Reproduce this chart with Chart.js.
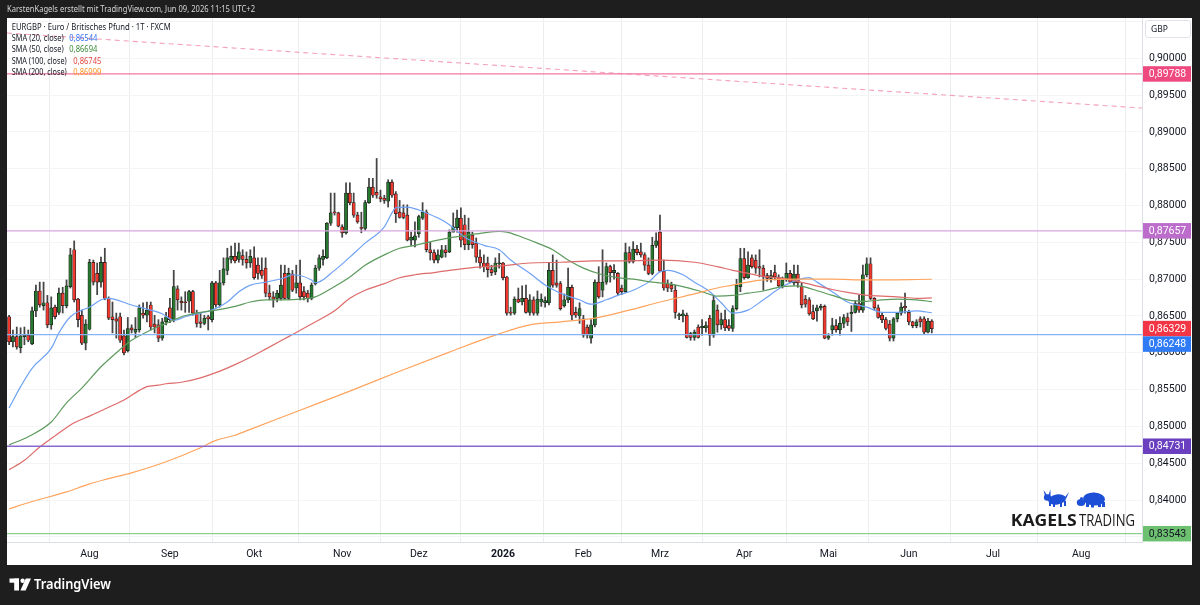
<!DOCTYPE html>
<html><head><meta charset="utf-8">
<script src="https://cdn.jsdelivr.net/npm/chart.js@4.4.1/dist/chart.umd.min.js"></script>
<style>html,body{margin:0;padding:0;background:#1e1e1e;overflow:hidden}canvas{display:block}</style>
</head><body><canvas id="c" width="1200" height="605"></canvas>
<script>
// ---------- categories (trading days) ----------
const firstBar = -21;                 // bar index of first candle (Aug 1 2025 = 0)
const startDate = '2025-07-03';
const endDate = '2026-08-31';
const holidays = ['2025-12-25', '2026-01-01'];
const monthKeys = ['2025-08','2025-09','2025-10','2025-11','2025-12','2026-01','2026-02','2026-03','2026-04','2026-05','2026-06','2026-07','2026-08'];
const monthLabels = ['Aug','Sep','Okt','Nov','Dez','2026','Feb','Mrz','Apr','Mai','Jun','Jul','Aug'];

// ---------- EURGBP daily OHLC ----------
const opens = [
.8649,.8615,.8622,.8607,.8622,.8624,.8612,.8657,.8684,.8664,
.8668,.8638,.8662,.8655,.8681,.8664,.8690,.8740,.8673,.8651,
.8613,.8632,.8723,.8708,.8696,.8723,.8674,.8649,.8646,.8649,
.8623,.8603,.8634,.8628,.8631,.8654,.8651,.8665,.8639,.8638,
.8620,.8642,.8661,.8645,.8687,.8670,.8669,.8670,.8683,.8654,
.8642,.8640,.8649,.8645,.8695,.8665,.8695,.8712,.8727,.8731,
.8727,.8732,.8727,.8722,.8729,.8719,.8712,.8715,.8681,.8676,
.8674,.8674,.8708,.8674,.8707,.8688,.8695,.8683,.8681,.8674,
.8694,.8715,.8727,.8729,.8776,.8791,.8790,.8771,.8763,.8817,
.8804,.8787,.8770,.8769,.8804,.8825,.8818,.8812,.8810,.8806,
.8832,.8816,.8791,.8790,.8787,.8753,.8753,.8762,.8783,.8791,
.8740,.8736,.8726,.8730,.8740,.8737,.8764,.8770,.8783,.8774,
.8747,.8760,.8749,.8730,.8722,.8722,.8713,.8710,.8721,.8722,
.8703,.8655,.8654,.8673,.8669,.8674,.8655,.8672,.8654,.8669,
.8668,.8668,.8712,.8695,.8694,.8664,.8672,.8689,.8655,.8650,
.8646,.8635,.8620,.8638,.8696,.8685,.8696,.8717,.8709,.8708,
.8688,.8683,.8736,.8724,.8741,.8737,.8733,.8719,.8708,.8746,
.8764,.8711,.8694,.8692,.8685,.8650,.8650,.8651,.8626,.8621,
.8635,.8634,.8634,.8647,.8624,.8658,.8638,.8645,.8637,.8633,
.8660,.8690,.8728,.8702,.8729,.8726,.8717,.8715,.8705,.8701,
.8709,.8703,.8691,.8699,.8708,.8695,.8707,.8690,.8673,.8672,
.8656,.8657,.8661,.8663,.8620,.8631,.8637,.8631,.8640,.8648,
.8653,.8655,.8667,.8658,.8706,.8721,.8674,.8661,.8651,.8645,
.8639,.8620,.8646,.8654,.8663,.8655,.8642,.8637,.8646,.8646,
.8628,.8643];
const highs = [
.8651,.8631,.8635,.8634,.8635,.8631,.8662,.8692,.8696,.8696,
.8678,.8676,.8665,.8688,.8689,.8699,.8742,.8752,.8674,.8658,
.8645,.8727,.8726,.8722,.8730,.8742,.8676,.8669,.8654,.8654,
.8631,.8648,.8638,.8648,.8665,.8668,.8669,.8669,.8651,.8645,
.8647,.8655,.8674,.8712,.8691,.8676,.8683,.8685,.8685,.8658,
.8655,.8651,.8651,.8697,.8697,.8712,.8729,.8742,.8745,.8749,
.8749,.8740,.8737,.8740,.8744,.8729,.8729,.8729,.8692,.8683,
.8685,.8719,.8719,.8715,.8712,.8719,.8726,.8690,.8685,.8695,
.8719,.8733,.8740,.8777,.8817,.8817,.8791,.8774,.8831,.8831,
.8817,.8791,.8791,.8807,.8837,.8837,.8864,.8821,.8814,.8835,
.8835,.8819,.8807,.8801,.8801,.8764,.8778,.8787,.8804,.8794,
.8750,.8740,.8740,.8746,.8746,.8767,.8790,.8794,.8797,.8787,
.8783,.8764,.8756,.8740,.8733,.8730,.8719,.8729,.8735,.8723,
.8704,.8662,.8676,.8688,.8691,.8692,.8679,.8676,.8684,.8680,
.8676,.8723,.8733,.8726,.8697,.8680,.8715,.8692,.8662,.8668,
.8651,.8638,.8645,.8699,.8717,.8740,.8722,.8719,.8720,.8709,
.8692,.8749,.8744,.8751,.8746,.8749,.8736,.8729,.8757,.8763,
.8787,.8726,.8699,.8696,.8692,.8654,.8658,.8654,.8628,.8631,
.8638,.8645,.8642,.8651,.8678,.8665,.8654,.8658,.8645,.8664,
.8700,.8742,.8742,.8737,.8733,.8733,.8740,.8719,.8708,.8712,
.8719,.8706,.8703,.8722,.8712,.8719,.8719,.8695,.8678,.8675,
.8665,.8665,.8666,.8665,.8626,.8647,.8645,.8649,.8652,.8654,
.8664,.8671,.8678,.8719,.8729,.8729,.8675,.8665,.8654,.8648,
.8644,.8648,.8655,.8668,.8681,.8658,.8643,.8645,.8649,.8649,
.8647,.8645];
const lows = [
.8611,.8608,.8605,.8600,.8611,.8615,.8611,.8649,.8662,.8658,
.8634,.8632,.8646,.8652,.8654,.8661,.8688,.8669,.8635,.8611,
.8604,.8631,.8692,.8679,.8689,.8672,.8645,.8627,.8620,.8614,
.8597,.8601,.8627,.8621,.8628,.8647,.8642,.8631,.8627,.8615,
.8617,.8638,.8641,.8642,.8658,.8658,.8655,.8655,.8651,.8635,
.8634,.8638,.8631,.8642,.8662,.8662,.8692,.8706,.8722,.8722,
.8723,.8719,.8715,.8716,.8700,.8700,.8701,.8676,.8672,.8662,
.8669,.8672,.8673,.8672,.8683,.8681,.8672,.8672,.8669,.8672,
.8692,.8712,.8719,.8728,.8773,.8787,.8771,.8757,.8761,.8801,
.8784,.8776,.8763,.8766,.8803,.8811,.8810,.8805,.8803,.8798,
.8811,.8777,.8783,.8782,.8752,.8746,.8744,.8757,.8781,.8737,
.8726,.8722,.8722,.8729,.8730,.8736,.8764,.8764,.8744,.8740,
.8740,.8742,.8723,.8715,.8710,.8703,.8705,.8706,.8715,.8699,
.8651,.8651,.8652,.8668,.8665,.8654,.8651,.8651,.8651,.8663,
.8662,.8665,.8689,.8689,.8658,.8662,.8668,.8645,.8648,.8640,
.8621,.8620,.8613,.8635,.8674,.8676,.8693,.8696,.8700,.8678,
.8679,.8682,.8722,.8722,.8733,.8730,.8712,.8706,.8706,.8743,
.8710,.8685,.8683,.8683,.8647,.8645,.8642,.8620,.8617,.8617,
.8620,.8624,.8628,.8610,.8621,.8628,.8632,.8630,.8630,.8629,
.8658,.8683,.8700,.8701,.8715,.8708,.8703,.8685,.8697,.8696,
.8699,.8690,.8688,.8697,.8695,.8692,.8689,.8661,.8662,.8651,
.8645,.8643,.8658,.8619,.8618,.8624,.8628,.8624,.8634,.8637,
.8629,.8654,.8655,.8655,.8703,.8672,.8658,.8647,.8641,.8631,
.8616,.8616,.8642,.8651,.8654,.8638,.8634,.8634,.8635,.8625,
.8627,.8627];
const closes = [
.8615,.8622,.8608,.8623,.8624,.8617,.8657,.8684,.8665,.8668,
.8638,.8661,.8649,.8681,.8664,.8691,.8733,.8672,.8645,.8613,
.8639,.8723,.8696,.8696,.8723,.8674,.8647,.8645,.8643,.8617,
.8600,.8633,.8631,.8632,.8661,.8651,.8658,.8635,.8635,.8620,
.8642,.8649,.8645,.8690,.8672,.8668,.8668,.8683,.8654,.8640,
.8640,.8647,.8646,.8695,.8665,.8695,.8714,.8729,.8731,.8725,
.8737,.8727,.8722,.8731,.8702,.8708,.8705,.8681,.8676,.8673,
.8681,.8692,.8674,.8708,.8685,.8695,.8676,.8676,.8674,.8692,
.8715,.8729,.8731,.8776,.8790,.8790,.8772,.8763,.8817,.8804,
.8787,.8778,.8769,.8804,.8825,.8814,.8814,.8809,.8807,.8832,
.8814,.8789,.8784,.8784,.8753,.8757,.8759,.8785,.8791,.8740,
.8736,.8726,.8733,.8740,.8736,.8764,.8771,.8783,.8753,.8747,
.8764,.8747,.8730,.8722,.8717,.8713,.8709,.8722,.8722,.8702,
.8654,.8654,.8673,.8669,.8674,.8655,.8672,.8654,.8673,.8673,
.8671,.8712,.8692,.8692,.8660,.8672,.8689,.8651,.8651,.8660,
.8624,.8624,.8638,.8696,.8676,.8696,.8717,.8709,.8712,.8681,
.8683,.8736,.8724,.8741,.8736,.8733,.8719,.8708,.8746,.8752,
.8711,.8688,.8688,.8687,.8655,.8652,.8653,.8621,.8621,.8628,
.8621,.8636,.8637,.8624,.8671,.8638,.8645,.8634,.8633,.8660,
.8692,.8728,.8702,.8719,.8717,.8715,.8715,.8703,.8701,.8705,
.8703,.8691,.8699,.8708,.8696,.8707,.8695,.8665,.8666,.8653,
.8646,.8661,.8663,.8620,.8623,.8637,.8631,.8640,.8648,.8642,
.8655,.8667,.8658,.8706,.8721,.8674,.8661,.8648,.8645,.8633,
.8620,.8646,.8654,.8662,.8661,.8642,.8637,.8642,.8642,.8628,
.8643,.86329];

// ---------- moving averages ----------
const sma20Idx = [-21,-18,-15,-10,-8,-5,-2,0,3,5,11,16,19,22,25,29,32,36,39,42,46,51,53,58,59,64,68,72,77,79,80,83,86,88,91,94,98,103,107,110,115,119,123,128,131,135,138,142,146,149,151,155,158,162,165,168,172,176,181,185,188,190,194,198,203,207,211,216,220];
const sma20Val = [.8525,.8554,.8579,.8606,.8627,.8649,.8658,.8662,.8672,.8674,.8665,.8658,.8653,.8644,.8649,.8654,.8658,.8669,.8683,.8692,.8696,.8702,.8706,.8699,.8695,.8712,.8730,.8749,.8771,.8790,.8797,.8798,.8794,.8790,.8783,.8774,.8757,.8746,.8740,.8726,.8708,.8692,.8681,.8672,.8666,.8672,.8678,.8685,.8696,.8710,.8712,.8706,.8696,.8683,.8668,.8654,.8658,.8672,.8690,.8699,.8702,.8696,.8683,.8669,.8662,.8655,.8655,.8657,.86544];
const sma50Idx = [-21,-16,-10,-6,-2,3,7,11,16,20,24,29,33,38,42,46,51,55,59,64,68,72,77,81,85,90,94,99,103,107,109,113,117,121,125,129,134,138,142,147,151,155,160,164,168,172,176,181,185,189,194,198,203,207,211,216,220];
const sma50Val = [.8475,.8486,.8506,.8532,.8552,.8581,.8600,.8617,.8631,.8640,.8649,.8655,.8658,.8663,.8669,.8672,.8672,.8673,.8676,.8690,.8703,.8719,.8733,.8742,.8746,.8752,.8756,.8760,.8763,.8765,.8764,.8757,.8749,.8740,.8726,.8715,.8706,.8702,.8700,.8696,.8694,.8690,.8683,.8677,.8678,.8681,.8684,.8690,.8691,.8686,.8678,.8672,.8670,.8672,.8673,.8672,.86694];
const sma100Idx = [-21,-17,-13,-8,-4,0,5,9,13,15,18,20,24,29,33,38,42,46,52,58,64,68,72,77,81,85,90,94,99,103,107,115,123,132,141,149,158,164,168,172,176,181,185,189,194,198,203,207,211,216,220];
const sma100Val = [.8441,.8454,.8472,.8491,.8505,.8514,.8526,.8536,.8549,.8554,.8556,.8558,.8560,.8566,.8573,.8584,.8594,.8605,.8622,.8639,.8657,.8674,.8685,.8694,.8702,.8706,.8709,.8712,.8715,.8717,.8718,.8722,.8723,.8725,.8725,.8726,.8723,.8717,.8712,.8708,.8704,.8701,.8697,.8692,.8686,.8682,.8678,.8677,.8676,.8674,.86745];
const sma200Idx = [-21,-15,-6,0,5,11,20,29,33,38,42,55,68,81,94,106,115,123,132,141,149,158,164,168,172,176,185,194,203,220];
const sma200Val = [.8388,.8398,.8411,.8422,.8429,.8437,.8452,.8471,.8481,.8488,.8496,.8522,.8548,.8575,.8601,.8624,.8638,.8642,.8647,.8658,.8669,.8680,.8688,.8692,.8696,.8699,.8700,.8700,.8699,.86999];
const smaLegendValues = [0.86544, 0.86694, 0.86745, 0.86999];
const smaNames = ['SMA (20, close)', 'SMA (50, close)', 'SMA (100, close)', 'SMA (200, close)'];

// ---------- drawings ----------
const levelValues = [0.89788, 0.87657, 0.86248, 0.84731, 0.83543];
const trendIdx = [-21.55, 274.9];
const trendVal = [0.90344, 0.89325];
const lastPrice = 0.86329;
const priceTicks = [0.835,0.84,0.845,0.85,0.855,0.86,0.865,0.87,0.875,0.88,0.885,0.89,0.895,0.90,0.905];
const hiddenTickLabels = [0.835, 0.905];

// ---------- styles ----------
const X_MIN = -21.55, X_MAX = 274.9, Y_MIN = 0.8343, Y_MAX = 0.90548;
const UP = '#27782f', DOWN = '#f0392e';
const smaColors = ['#6fa2f5', '#5d9a5d', '#de6b6b', '#ffa45e'];
const smaTextColors = ['#2f6ff0', '#3a8a3a', '#e0453f', '#ff9526'];
const levelLine = ['#f2779f', '#d7a6e0', '#86b2f7', '#8a69cf', '#8fd092'];
const levelBox = ['#ee4a80', '#bc6cca', '#2f7cf6', '#6a3fc0', '#6cc070'];
const levelText = ['#fff', '#fff', '#fff', '#fff', '#131722'];

// ---------- derived ----------
const tradingDays = [];
for (let d = new Date(startDate + 'T00:00:00Z'); d <= new Date(endDate + 'T00:00:00Z'); d.setUTCDate(d.getUTCDate() + 1)) {
  const wd = d.getUTCDay(); const s = d.toISOString().slice(0, 10);
  if (wd === 0 || wd === 6 || holidays.includes(s)) continue;
  tradingDays.push(s);
}
const monthTickIdx = monthKeys.map(k => tradingDays.findIndex(s => s.startsWith(k)) + firstBar);
const barIdx = opens.map((_, k) => k + firstBar);
const wickData = barIdx.map((x, k) => ({ x, y: [lows[k], highs[k]] }));
const bodyData = barIdx.map((x, k) => ({ x, y: [opens[k], closes[k]] }));
const bodyColors = barIdx.map((_, k) => closes[k] >= opens[k] ? UP : DOWN);
const pts = (xs, ys) => xs.map((x, k) => ({ x, y: ys[k] }));
const fmt = v => v.toFixed(5).replace('.', ',');

const smaSets = [[sma20Idx, sma20Val], [sma50Idx, sma50Val], [sma100Idx, sma100Val], [sma200Idx, sma200Val]];

const datasets = [
  { type: 'bar', label: 'wick', data: wickData, backgroundColor: '#454545', borderWidth: 0, barThickness: 1.1, grouped: false, order: 20 },
  { type: 'bar', label: 'body', data: bodyData, backgroundColor: bodyColors, borderColor: '#1b1b1b', borderWidth: 0.7, borderSkipped: false, barThickness: 3.2, minBarLength: 1, grouped: false, order: 19 },
];
smaSets.forEach(([xs, ys], i) => datasets.push({
  type: 'line', label: smaNames[i], data: pts(xs, ys), borderColor: smaColors[i], borderWidth: 1.2,
  pointRadius: 0, cubicInterpolationMode: 'monotone', fill: false, order: 10 - i
}));
levelValues.forEach((v, i) => datasets.push({
  type: 'line', label: 'level' + i, data: [{ x: X_MIN, y: v }, { x: X_MAX, y: v }], borderColor: levelLine[i],
  borderWidth: 1.3, pointRadius: 0, fill: false, order: 1
}));
datasets.push({ type: 'line', label: 'trend', data: pts(trendIdx, trendVal), borderColor: '#f4a0b8', borderWidth: 1.1, borderDash: [5, 4], pointRadius: 0, fill: false, order: 1 });

function fitText(ctx, text, x, yMid, width, font, color) {
  ctx.save();
  ctx.font = font; ctx.fillStyle = color; ctx.textBaseline = 'middle'; ctx.textAlign = 'left';
  const w = ctx.measureText(text).width;
  ctx.translate(x, yMid); ctx.scale(width / w, 1);
  ctx.fillText(text, 0, 0);
  ctx.restore();
}

const framePlugin = {
  id: 'frame',
  beforeDraw(chart) {
    const ctx = chart.ctx;
    ctx.save();
    ctx.fillStyle = '#1e1e1e'; ctx.fillRect(0, 0, 1200, 605);
    ctx.fillStyle = '#ffffff'; ctx.fillRect(7, 18, 1185, 547);
    ctx.restore();
  },
  afterDraw(chart) {
    const ctx = chart.ctx, ys = chart.scales.y, area = chart.chartArea;
    // header
    fitText(ctx, 'KarstenKagels erstellt mit TradingView.com, Jun 09, 2026 11:15 UTC+2', 7, 9, 248, '9px "Noto Sans"', '#d6d6d6');
    // legend
    fitText(ctx, 'EURGBP · Euro / Britisches Pfund · 1T · FXCM', 11.7, 26.9, 159, '9.5px "Noto Sans"', '#131722');
    const ly = [38.3, 49.5, 60.8, 72];
    smaNames.forEach((n, i) => {
      const wide = n.includes('00');
      fitText(ctx, n, 11.7, ly[i], wide ? 55 : 52, '9.5px "Noto Sans"', '#131722');
      fitText(ctx, fmt(smaLegendValues[i]), wide ? 73.3 : 69.3, ly[i], 28, '9.5px "Noto Sans"', smaTextColors[i]);
    });
    // price label boxes
    const labels = levelValues.map((v, i) => ({ v, bg: levelBox[i], fg: levelText[i] }));
    labels.push({ v: lastPrice, bg: '#f23645', fg: '#fff' });
    labels.forEach(l => l.y = ys.getPixelForValue(l.v));
    labels.sort((a, b) => a.y - b.y);
    const H = 15.5;
    for (let i = 1; i < labels.length; i++) if (labels[i].y < labels[i - 1].y + H) labels[i].y = labels[i - 1].y + H;
    labels.forEach(l => {
      ctx.save();
      ctx.fillStyle = l.bg; ctx.fillRect(area.right + 1, l.y - H / 2, 48, H);
      ctx.fillStyle = l.fg; ctx.font = '10.5px Roboto'; ctx.textBaseline = 'middle'; ctx.textAlign = 'center';
      ctx.fillText(fmt(l.v), area.right + 25.5, l.y + 0.5);
      ctx.restore();
    });
    // GBP box
    ctx.save();
    ctx.fillStyle = '#fff'; ctx.strokeStyle = '#e0e3eb'; ctx.lineWidth = 1;
    ctx.beginPath(); ctx.roundRect(1145.5, 20.5, 45, 17, 2); ctx.fill(); ctx.stroke();
    ctx.fillStyle = '#131722'; ctx.font = '8.5px "Noto Sans"'; ctx.textBaseline = 'middle'; ctx.textAlign = 'left';
    ctx.fillText('GBP', 1151, 29.5);
    ctx.restore();
    // Kagels Trading watermark
    ctx.save();
    ctx.fillStyle = '#1d4fd6';
    // bull
    ctx.beginPath();
    ctx.ellipse(1057, 499.5, 9, 5, -0.15, 0, Math.PI * 2); ctx.fill();
    ctx.beginPath(); ctx.ellipse(1047.5, 497.5, 3.6, 3.2, 0, 0, Math.PI * 2); ctx.fill();
    ctx.beginPath(); ctx.moveTo(1045, 496); ctx.lineTo(1043.5, 490); ctx.lineTo(1047, 495); ctx.fill();
    ctx.beginPath(); ctx.moveTo(1048.5, 495); ctx.lineTo(1050.5, 489.5); ctx.lineTo(1050.5, 495.5); ctx.fill();
    ctx.fillRect(1049, 501, 2, 5); ctx.fillRect(1053, 502, 2, 5); ctx.fillRect(1060, 502, 2, 5); ctx.fillRect(1064, 501, 2, 5);
    ctx.beginPath(); ctx.moveTo(1065, 497); ctx.lineTo(1069, 492); ctx.lineTo(1066, 499); ctx.fill();
    // bear
    ctx.beginPath(); ctx.ellipse(1094, 499, 11, 6.5, 0.05, 0, Math.PI * 2); ctx.fill();
    ctx.beginPath(); ctx.ellipse(1081, 502.5, 4.2, 3.6, 0, 0, Math.PI * 2); ctx.fill();
    ctx.beginPath(); ctx.arc(1081.5, 498.5, 1.5, 0, Math.PI * 2); ctx.fill();
    ctx.fillRect(1086, 503, 3, 4); ctx.fillRect(1091, 504, 3, 3.5); ctx.fillRect(1098, 503, 3, 4); ctx.fillRect(1102, 502, 3, 5);
    ctx.restore();
    fitText(ctx, 'KAGELS', 1010.7, 521.5, 66, 'bold 16.5px "Open Sans"', '#1b1b1b');
    fitText(ctx, 'TRADING', 1079, 521.5, 56, '16.5px "Open Sans"', '#1b1b1b');
    // TradingView footer logo
    ctx.save();
    ctx.fillStyle = '#ffffff';
    ctx.fillRect(9.5, 578.5, 9.5, 4.2); ctx.fillRect(14.2, 578.5, 4.8, 12);
    ctx.beginPath(); ctx.arc(22.6, 580.7, 2.2, 0, Math.PI * 2); ctx.fill();
    ctx.beginPath(); ctx.moveTo(25.8, 578.5); ctx.lineTo(31, 578.5); ctx.lineTo(25.6, 590.5); ctx.lineTo(20.4, 590.5); ctx.closePath(); ctx.fill();
    ctx.restore();
    fitText(ctx, 'TradingView', 34, 585, 77, '600 15px "Noto Sans"', '#ffffff');
  }
};

new Chart(document.getElementById('c'), {
  type: 'bar',
  data: { datasets },
  plugins: [framePlugin],
  options: {
    responsive: false, animation: false, devicePixelRatio: 1,
    layout: { padding: { left: 7, top: 18, right: 8, bottom: 40 } },
    plugins: { legend: { display: false }, tooltip: { enabled: false } },
    scales: {
      x: {
        type: 'linear', min: X_MIN, max: X_MAX, offset: false,
        afterBuildTicks: s => { s.ticks = monthTickIdx.map(v => ({ value: v })); },
        afterFit: s => { s.height = 23; },
        grid: { color: '#ebedf0', drawTicks: false, lineWidth: 1 },
        border: { display: true, color: '#dcdfe6' },
        ticks: {
          autoSkip: false, maxRotation: 0, padding: 6, color: '#131722',
          font: c => ({ family: 'Roboto', size: 10.5, weight: (c.tick && c.tick.label === '2026') ? 'bold' : 'normal' }),
          callback: v => { const i = monthTickIdx.indexOf(v); return i >= 0 ? monthLabels[i] : ''; }
        }
      },
      y: {
        type: 'linear', position: 'right', min: Y_MIN, max: Y_MAX,
        afterBuildTicks: s => { s.ticks = priceTicks.map(v => ({ value: v })); },
        afterFit: s => { s.width = 50; },
        grid: { color: '#f3f4f6', drawTicks: false },
        border: { display: true, color: '#dcdfe6' },
        ticks: { padding: 7, color: '#131722', font: { family: 'Roboto', size: 10.5 },
          callback: v => hiddenTickLabels.some(h => Math.abs(h - v) < 1e-9) ? '' : fmt(v) }
      }
    }
  }
});
</script></body></html>
